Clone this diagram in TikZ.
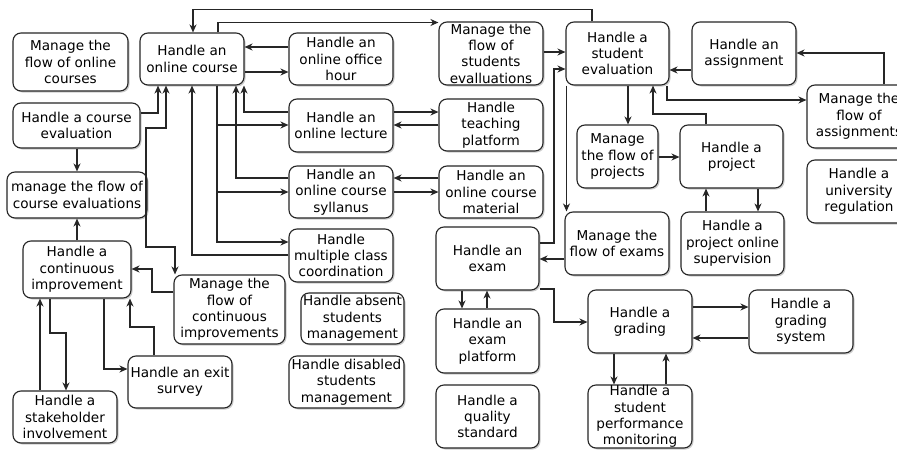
\documentclass[tikz,border=0pt]{standalone}
\usepackage{fontspec}
\setmainfont{DejaVu Sans}
\usetikzlibrary{arrows.meta,shadows}
\begin{document}
\begin{tikzpicture}[x=1pt,y=-1pt,
  >={Stealth[length=8pt,width=7pt,inset=2.5pt]},
  box/.style={draw=black!85, line width=1.1pt, rounded corners=8pt, fill=white, align=center, inner sep=0pt,
     font=\fontsize{13.6}{16.3}\selectfont,
     drop shadow={shadow xshift=1.5pt,shadow yshift=-1.5pt,opacity=0.2,fill=black}},
  arr/.style={->, line width=1.1pt, draw=black!85},
  biarr/.style={<->, line width=1.1pt, draw=black!85}]
\useasboundingbox (0,0) rectangle (897,450);
\clip (0,0) rectangle (897,450);
\fill[white] (0,0) rectangle (897,450);
% nodes
\node[box, minimum width=115, minimum height=58] (mfoc) at (70.5,62) {Manage the\\flow of online\\courses};
\node[box, minimum width=104, minimum height=52] (oc) at (192,59) {Handle an\\online course};
\node[box, minimum width=127, minimum height=45] (ce) at (76.5,125.5) {Handle a course\\evaluation};
\node[box, minimum width=140, minimum height=46] (mfce) at (77,195) {manage the flow of\\course evaluations};
\node[box, minimum width=108, minimum height=57] (ci) at (77,269.5) {Handle a\\continuous\\improvement};
\node[box, minimum width=111, minimum height=69] (mfci) at (229.5,309.5) {Manage the\\flow of\\continuous\\improvements};
\node[box, minimum width=104, minimum height=52] (exit) at (180,382) {Handle an exit\\survey};
\node[box, minimum width=104, minimum height=52] (stake) at (65,417) {Handle a\\stakeholder\\involvement};
\node[box, minimum width=104, minimum height=52] (oh) at (341,59) {Handle an\\online office\\hour};
\node[box, minimum width=104, minimum height=53] (lec) at (341,125.5) {Handle an\\online lecture};
\node[box, minimum width=104, minimum height=52] (syl) at (341,192) {Handle an\\online course\\syllanus};
\node[box, minimum width=104, minimum height=53] (mcc) at (341,255.5) {Handle\\multiple class\\coordination};
\node[box, minimum width=103, minimum height=51] (abs) at (352.5,318.5) {Handle absent\\students\\management};
\node[box, minimum width=115, minimum height=52] (dis) at (346.5,382) {Handle disabled\\students\\management};
\node[box, minimum width=104, minimum height=63] (mfse) at (491,53.5) {Manage the\\flow of\\students\\evalluations};
\node[box, minimum width=104, minimum height=52] (tp) at (491,125) {Handle\\teaching\\platform};
\node[box, minimum width=104, minimum height=52] (mat) at (491,192) {Handle an\\online course\\material};
\node[box, minimum width=103, minimum height=63] (exam) at (487.5,258.5) {Handle an\\exam};
\node[box, minimum width=103, minimum height=64] (ep) at (487.5,341) {Handle an\\exam\\platform};
\node[box, minimum width=103, minimum height=63] (qs) at (487.5,416.5) {Handle a\\quality\\standard};
\node[box, minimum width=103, minimum height=63] (se) at (617.5,53.5) {Handle a\\student\\evaluation};
\node[box, minimum width=104, minimum height=63] (asg) at (744,53.5) {Handle an\\assignment};
\node[box, minimum width=104, minimum height=63] (mfa) at (859,116.5) {Manage the\\flow of\\assignments};
\node[box, minimum width=104, minimum height=63] (ur) at (859,191.5) {Handle a\\university\\regulation};
\node[box, minimum width=81, minimum height=63] (mfp) at (617.5,156.5) {Manage\\the flow of\\projects};
\node[box, minimum width=103, minimum height=63] (proj) at (731.5,156.5) {Handle a\\project};
\node[box, minimum width=103, minimum height=63] (hpos) at (732.5,243.5) {Handle a\\project online\\supervision};
\node[box, minimum width=104, minimum height=63] (mfe) at (617,243.5) {Manage the\\flow of exams};
\node[box, minimum width=104, minimum height=63] (gr) at (640,321.5) {Handle a\\grading};
\node[box, minimum width=104, minimum height=63] (gs) at (801,321.5) {Handle a\\grading\\system};
\node[box, minimum width=104, minimum height=63] (spm) at (640,416.5) {Handle a\\student\\performance\\monitoring};
% online course connectors
\draw[arr] (oc.east |- 0,72) -- (oh.west |- 0,72);
\draw[arr] (oh.west |- 0,47) -- (oc.east |- 0,47);
\draw[arr] (lec.west |- 0,112) -| (oc.south -| 244,0);
\draw[arr] (oc.south -| 217,0) |- (lec.west |- 0,125);
\draw[arr] (oc.south -| 217,0) |- (syl.west |- 0,192);
\draw[arr] (oc.south -| 217,0) |- (mcc.west |- 0,242);
\draw[arr] (syl.west |- 0,178) -| (oc.south -| 236,0);
\draw[arr] (mcc.west |- 0,255) -| (oc.south -| 192,0);
\draw[arr] (lec.east |- 0,112) -- (tp.west |- 0,112);
\draw[arr] (tp.west |- 0,125) -- (lec.east |- 0,125);
\draw[arr] (mat.west |- 0,178) -- (syl.east |- 0,178);
\draw[arr] (syl.east |- 0,192) -- (mat.west |- 0,192);
\draw[arr] (se.north -| 592,0) -- ++(0,-12) -| (oc.north -| 193,0);
\draw[arr] (oc.north -| 218,0) |- (mfse.west |- 0,22.5);
% student evaluation connectors
\draw[arr] (mfse.east |- 0,52) -- (se.west |- 0,52);
\draw[arr] (exam.east |- 0,243) -- (554,243) |- (se.west |- 0,69);
\draw[arr] (se.south -| 566.5,0) -- (mfe.north -| 566.5,0);
\draw[arr] (mfe.west |- 0,259) -- (exam.east |- 0,259);
\draw[arr] (exam.east |- 0,289) -- (554,289) |- (gr.west |- 0,322);
\draw[arr] (exam.south -| 462,0) -- (ep.north -| 462,0);
\draw[arr] (ep.north -| 487,0) -- (exam.south -| 487,0);
\draw[arr] (asg.west |- 0,70) -- (se.east |- 0,70);
\draw[arr] (mfa.north -| 884,0) |- (asg.east |- 0,53);
\draw[arr] (se.south -| 667,0) |- (mfa.west |- 0,100);
\draw[arr] (se.south -| 628,0) -- (mfp.north -| 628,0);
\draw[arr] (proj.north -| 706,0) |- (653,114) -- (se.south -| 653,0);
\draw[arr] (mfp.east |- 0,157) -- (proj.west |- 0,157);
\draw[arr] (proj.south -| 758,0) -- (hpos.north -| 758,0);
\draw[arr] (hpos.north -| 706,0) -- (proj.south -| 706,0);
\draw[arr] (gr.east |- 0,307) -- (gs.west |- 0,307);
\draw[arr] (gs.west |- 0,338) -- (gr.east |- 0,338);
\draw[arr] (gr.south -| 614,0) -- (spm.north -| 614,0);
\draw[arr] (spm.north -| 666,0) -- (gr.south -| 666,0);
% left side connectors
\draw[arr] (ce.east |- 0,113) -| (oc.south -| 158,0);
\draw[arr] (ce.south -| 77,0) -- (mfce.north -| 77,0);
\draw[arr] (ci.north -| 77,0) -- (mfce.south -| 77,0);
\draw[biarr] (oc.south -| 166,0) |- (146,128) -- (146,247) -| (mfci.north -| 175,0);
\draw[arr] (mfci.west |- 0,292) -- (152,292) |- (ci.east |- 0,269);
\draw[arr] (ci.south -| 50,0) |- (66,333) -- (stake.north -| 66,0);
\draw[arr] (stake.north -| 40,0) -- (ci.south -| 40,0);
\draw[arr] (ci.south -| 104,0) |- (exit.west |- 0,369);
\draw[arr] (exit.north -| 154,0) |- (130,327) -- (ci.south -| 130,0);
\end{tikzpicture}
\end{document}
